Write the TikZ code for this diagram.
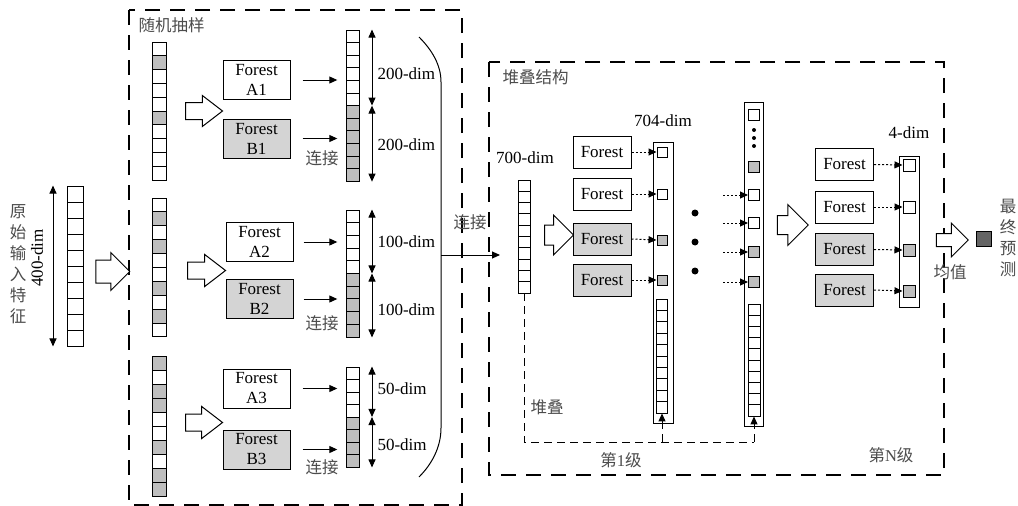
\documentclass[tikz,border=0pt]{standalone}
\usepackage{fontspec}
\setmainfont{Liberation Serif}
\newfontfamily\cjk{Noto Sans CJK SC}
\usetikzlibrary{arrows.meta,shapes.arrows,positioning}
\definecolor{cellgray}{RGB}{190,190,190}
\definecolor{forestgray}{RGB}{212,212,212}
\definecolor{predgray}{RGB}{100,100,100}
\colorlet{cellw}{white}
\colorlet{cellg}{cellgray}
\tikzset{
  wire/.style={black, line width=1pt},
  zone/.style={draw=black, line width=1.2pt, dash pattern=on 15pt off 10pt},
  feed/.style={black, line width=1pt, dash pattern=on 8pt off 5pt},
  cell/.style={draw=black, line width=0.9pt, inner sep=0pt,
               minimum width=14pt, minimum height=13.8pt},
  sq/.style={draw=black, line width=1pt, inner sep=0pt, minimum size=10pt},
  outer/.style={draw=black, line width=1pt, fill=white, inner sep=0pt,
                minimum width=20pt},
  forest/.style={draw=black, line width=1pt, fill=white, inner sep=0pt,
                 minimum width=67pt, minimum height=39pt, align=center,
                 font=\fontsize{17}{20}\selectfont},
  forestb/.style={forest, fill=forestgray},
  tree/.style={forest, minimum width=58pt, minimum height=32pt},
  treeb/.style={tree, fill=forestgray},
  bigarrow/.style={single arrow, draw=black, line width=1pt, fill=white,
                   inner xsep=0pt, single arrow tip angle=90},
  bigdot/.style={circle, fill=black, inner sep=0pt, minimum size=7pt},
  smalldot/.style={circle, fill=black, inner sep=0pt, minimum size=4pt},
  flowtip/.style={-{Triangle[length=8pt,width=7pt]}},
  flow/.style={flowtip, line width=1pt},
  dimarrow/.style={{Triangle[length=8pt,width=7pt]}-{Triangle[length=8pt,width=7pt]},
                   line width=1pt},
  dotflow/.style={flowtip, line width=1pt, dash pattern=on 2pt off 2pt},
  lab/.style={font=\fontsize{17}{20}\selectfont},
  cnlab/.style={font=\cjk\fontsize{16.5}{21}\selectfont, text=black!70},
}
\begin{document}
\begin{tikzpicture}[x=1pt,y=-1pt]
  \path[use as bounding box] (0,0) rectangle (1018,506);

  \draw[zone] (129,10) rectangle (462,505);
  \draw[zone] (489,62) rectangle (944,475);
  \node[cnlab, anchor=west] (samplab) at (135,25) {随机抽样};
  \node[cnlab, anchor=west] (stacklab) at (499,77) {堆叠结构};

  \foreach \i in {0,...,9}
    \node[cell, minimum width=16pt, minimum height=16pt] (in-\i) at (75,194+16*\i) {};
  \draw[dimarrow] ([xshift=-22pt]in-0.north) -- ([xshift=-22pt]in-9.south);
  \node[lab, rotate=90] (inlab) at (37,258) {400-dim};
  \node[cnlab, text width=17pt, align=center] (intext) at (18,264) {原\\始\\输\\入\\特\\征};
  \node[bigarrow, minimum height=34pt, inner ysep=11pt,
        single arrow head extend=7.5pt] (inarrow) at (107,271.5) {};

  \foreach \f [count=\i from 0] in {w,g,w,w,w,g,w,w,w,w}
    \node[cell, fill=cell\f] (sa-\i) at (159,48.9+13.8*\i) {};
  \foreach \f [count=\i from 0] in {w,g,w,g,w,w,g,w,g,w}
    \node[cell, fill=cell\f] (sb-\i) at (159,204.9+13.9*\i) {};
  \foreach \f [count=\i from 0] in {g,w,g,g,w,w,g,w,g,g}
    \node[cell, minimum height=14pt, fill=cell\f] (sc-\i) at (159,363+14*\i) {};

  \node[bigarrow, minimum height=37pt, inner ysep=8pt, single arrow tip angle=75,
        single arrow head extend=7pt] (sarrow1) at (198.5,111) {};
  \node[bigarrow, minimum height=38pt, inner ysep=8pt, single arrow tip angle=75,
        single arrow head extend=7.5pt] (sarrow2) at (201,270.5) {};
  \node[bigarrow, minimum height=37pt, inner ysep=8pt, single arrow tip angle=75,
        single arrow head extend=7.5pt] (sarrow3) at (198.5,422.5) {};

  \node[forest] (A1) at (256.5,80) {Forest\\A1};
  \node[forestb] (B1) at (256.5,138.5) {Forest\\B1};
  \node[forest] (A2) at (259.5,242) {Forest\\A2};
  \node[forestb] (B2) at (259.5,299) {Forest\\B2};
  \node[forest] (A3) at (256.5,388.5) {Forest\\A3};
  \node[forestb] (B3) at (256.5,449.5) {Forest\\B3};

  \foreach \f [count=\i from 0] in {w,w,w,w,w,w,g,g,g,g,g,g}
    \node[cell, minimum width=12.5pt, minimum height=12.6pt, fill=cell\f] (ca-\i) at (353,36.3+12.6*\i) {};
  \foreach \f [count=\i from 0] in {w,w,w,w,w,g,g,g,g,g}
    \node[cell, minimum width=12.5pt, minimum height=12.7pt, fill=cell\f] (cb-\i) at (353,216.35+12.7*\i) {};
  \foreach \f [count=\i from 0] in {w,w,w,w,g,g,g,g}
    \node[cell, minimum width=12.5pt, minimum height=12.5pt, fill=cell\f] (cc-\i) at (353,373.25+12.5*\i) {};

  \draw[flow, shorten <=12pt, shorten >=9pt] (A1.east) -- (A1.east -| ca-0.west);
  \draw[flow, shorten <=12pt, shorten >=9pt] (B1.east) -- (B1.east -| ca-0.west);
  \draw[flow, shorten <=10pt, shorten >=9pt] (A2.east) -- (A2.east -| cb-0.west);
  \draw[flow, shorten <=10pt, shorten >=9pt] (B2.east) -- (B2.east -| cb-0.west);
  \draw[flow, shorten <=12pt, shorten >=9pt] (A3.east) -- (A3.east -| cc-0.west);
  \draw[flow, shorten <=12pt, shorten >=9pt] (B3.east) -- (B3.east -| cc-0.west);
  \node[cnlab] (cat1) at (322,158) {连接};
  \node[cnlab] (cat2) at (322,323) {连接};
  \node[cnlab] (cat3) at (322,467) {连接};

  \draw[dimarrow, shorten >=0.5pt] ([xshift=19pt]ca-0.north) -- ([xshift=19pt]ca-5.south);
  \draw[dimarrow, shorten <=0.5pt] ([xshift=19pt]ca-6.north) -- ([xshift=19pt]ca-11.south);
  \draw[dimarrow, shorten >=0.5pt] ([xshift=19pt]cb-0.north) -- ([xshift=19pt]cb-4.south);
  \draw[dimarrow, shorten <=0.5pt] ([xshift=19pt]cb-5.north) -- ([xshift=19pt]cb-9.south);
  \draw[dimarrow, shorten >=0.5pt] ([xshift=19pt]cc-0.north) -- ([xshift=19pt]cc-3.south);
  \draw[dimarrow, shorten <=0.5pt] ([xshift=19pt]cc-4.north) -- ([xshift=19pt]cc-7.south);
  \node[lab, anchor=west] (dima1) at (374,74) {200-dim};
  \node[lab, anchor=west] (dimb1) at (374,145) {200-dim};
  \node[lab, anchor=west] (dima2) at (374,242) {100-dim};
  \node[lab, anchor=west] (dimb2) at (374,310) {100-dim};
  \node[lab, anchor=west] (dima3) at (374,389) {50-dim};
  \node[lab, anchor=west] (dimb3) at (374,445) {50-dim};

  \draw[wire] (419,37) .. controls (432,50) and (441,65) .. (441,82) -- (441,428)
    .. controls (441,447) and (432,464) .. (419,477);
  \coordinate (joint) at (441,255);
  \coordinate (jointend) at (500,255);
  \draw[flow] (joint) -- (jointend);
  \node[cnlab] (catall) at (470,222) {连接};

  \node[lab] (d700) at (525,158) {700-dim};
  \foreach \i in {0,...,9}
    \node[cell, minimum width=12pt, minimum height=11.3pt] (c7-\i) at (524,185.65+11.3*\i) {};
  \node[bigarrow, minimum height=29pt, inner ysep=9.5pt,
        single arrow head extend=10pt] (karrow1) at (554,235) {};

  \node[tree] (L1a) at (602,152) {Forest};
  \node[tree] (L1b) at (602,194) {Forest};
  \node[treeb] (L1c) at (602,239) {Forest};
  \node[treeb] (L1d) at (602,280) {Forest};

  \node[outer, minimum height=281pt] (col1) at (663,282.5) {};
  \node[lab] (d704) at (663,121) {704-dim};
  \foreach \f/\y [count=\i] in {w/152,w/194,g/240,g/280}
    \node[sq, fill=cell\f] (q1-\i) at (662,\y) {};
  \foreach \i in {0,...,9}
    \node[cell, minimum width=10.5pt, minimum height=11.4pt] (m1-\i) at (662,304.7+11.4*\i) {};
  \foreach \t/\q in {L1a/q1-1,L1b/q1-2,L1c/q1-3,L1d/q1-4}
    \draw[dotflow] (\t.east) -- (\q.west);

  \foreach \y [count=\i] in {213,242,271}
    \node[bigdot] (gap-\i) at (695,\y) {};

  \node[outer, minimum width=19pt, minimum height=324pt] (colN) at (753.5,264) {};
  \foreach \f/\y [count=\i from 0] in {w/115,g/167,w/195,w/223,g/252,g/282}
    \node[sq, minimum size=11pt, fill=cell\f] (qN-\i) at (754,\y) {};
  \foreach \y [count=\i] in {130,138,146}
    \node[smalldot] (vdot-\i) at (754,\y) {};
  \foreach \i in {0,...,9}
    \node[cell, minimum width=12pt, minimum height=11.2pt] (mN-\i) at (754,309.6+11.2*\i) {};
  \foreach \i in {2,...,5}
    \draw[dotflow] ([xshift=-25pt]qN-\i.west) -- (qN-\i.west);

  \coordinate (fbl) at (524,442);
  \coordinate (fbr) at (754,442);
  \draw[feed] (c7-9.south) -- (fbl) -- (fbr);
  \draw[feed, flowtip] (m1-9.south |- fbl) -- (m1-9.south);
  \draw[feed, flowtip] (fbr) -- (mN-9.south);
  \node[cnlab] (stk) at (547,407) {堆叠};
  \node[cnlab] (lvl1) at (621,460) {第\textrm{1}级};

  \node[bigarrow, minimum height=31pt, inner ysep=9pt,
        single arrow head extend=11pt] (karrowN) at (788,225) {};
  \node[tree] (LNa) at (844.5,164.5) {Forest};
  \node[tree] (LNb) at (844.5,207) {Forest};
  \node[treeb] (LNc) at (844.5,249.5) {Forest};
  \node[treeb] (LNd) at (844.5,290) {Forest};

  \node[outer, minimum height=151pt] (col4) at (909,231.5) {};
  \node[lab] (d4) at (909,133) {4-dim};
  \foreach \f/\y [count=\i] in {w/165,w/207,g/250,g/291}
    \node[sq, minimum size=12pt, fill=cell\f] (o-\i) at (909,\y) {};
  \foreach \t/\q in {LNa/o-1,LNb/o-2,LNc/o-3,LNd/o-4}
    \draw[dotflow] (\t.east) -- (\q.west);
  \node[cnlab] (lvlN) at (891,455) {第\textrm{N}级};

  \node[bigarrow, minimum height=32pt, inner ysep=6pt,
        single arrow head extend=10.5pt] (meanarrow) at (949,240) {};
  \node[cnlab] (meanlab) at (950,272) {均值};
  \node[draw=black, line width=1pt, fill=predgray, inner sep=0pt,
        minimum size=15pt] (pred) at (983.5,238.5) {};
  \node[cnlab, text width=17pt, align=center] (predlab) at (1008,238) {最\\终\\预\\测};
\end{tikzpicture}
\end{document}
